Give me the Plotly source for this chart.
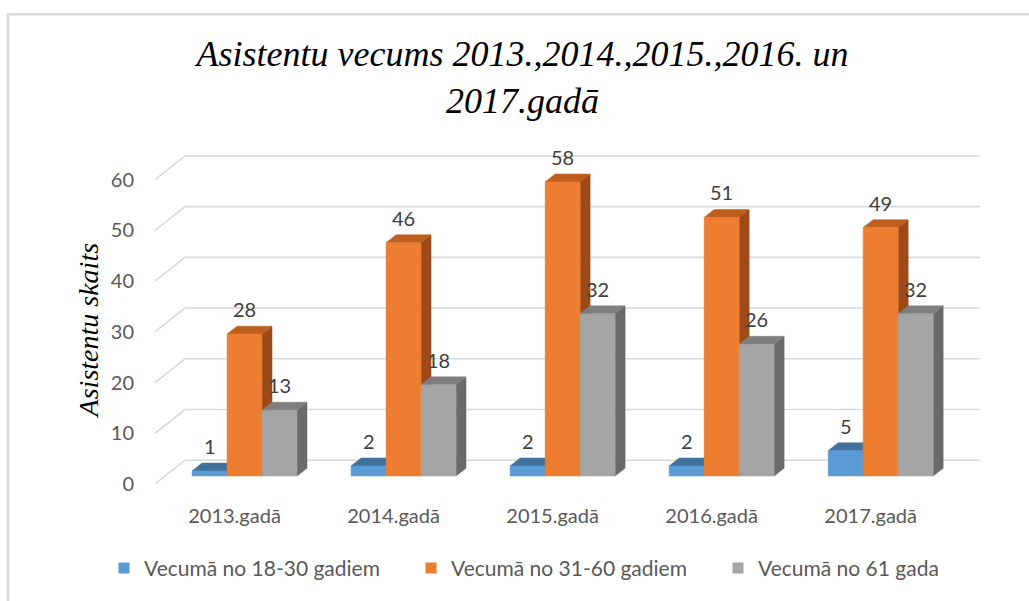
import plotly.graph_objects as go

# ---- data -------------------------------------------------------------
categories = ["2013.gadā", "2014.gadā", "2015.gadā", "2016.gadā", "2017.gadā"]
series_names = ["Vecumā no 18-30 gadiem", "Vecumā no 31-60 gadiem", "Vecumā no 61 gada"]
age_18_30 = [1, 2, 2, 2, 5]
age_31_60 = [28, 46, 58, 51, 49]
age_61_plus = [13, 18, 32, 26, 32]
y_ticks = [0, 10, 20, 30, 40, 50, 60]

# ---- geometry of the pseudo-3D drawing ---------------------------------
W, H = 1029, 601
MARGIN = dict(l=155, r=47, t=150, b=114)
X_RANGE = [-0.5, 4.7]
Y_RANGE = [0, 65.86]
px_per_x = (W - MARGIN["l"] - MARGIN["r"]) / (X_RANGE[1] - X_RANGE[0])
px_per_y = (H - MARGIN["t"] - MARGIN["b"]) / (Y_RANGE[1] - Y_RANGE[0])
STEP_DX = 10 / px_per_x      # one depth step, horizontal part
STEP_DY = 8 / px_per_y       # one depth step, vertical part
BAR_W = 35 / px_per_x        # width of a single bar

FACES = [  # front, top, side
    ("#5B9BD5", "#41719C", "#3A6891"),
    ("#ED7D31", "#BE5E1D", "#9C4B18"),
    ("#A5A5A5", "#7E7E7E", "#6A6A6A"),
]
GRID = "#D9D9D9"
TXT = "#595959"
SANS = "Lato, Calibri, sans-serif"
SERIF = "Liberation Serif, Times New Roman, serif"

fig = go.Figure()

# back wall + left wall gridlines
gx, gy = [], []
for v in y_ticks:
    gx += [X_RANGE[0], X_RANGE[0] + 3 * STEP_DX, len(categories) - 0.5 + 3 * STEP_DX, None]
    gy += [v, v + 3 * STEP_DY, v + 3 * STEP_DY, None]
fig.add_trace(go.Scatter(x=gx, y=gy, mode="lines", line=dict(color=GRID, width=1.6),
                         hoverinfo="skip", showlegend=False))


def face(xs, ys, color):
    fig.add_trace(go.Scatter(x=xs + [xs[0]], y=ys + [ys[0]], mode="lines", fill="toself",
                             fillcolor=color, line=dict(color=color, width=0.5),
                             hoverinfo="skip", showlegend=False))


annotations = []
series = [age_18_30, age_31_60, age_61_plus]
for i, cat in enumerate(categories):
    center = i + STEP_DX
    for k, vals in enumerate(series):
        front, top, side = FACES[k]
        v = vals[i]
        x0 = center - 1.5 * BAR_W + k * BAR_W
        x1 = x0 + BAR_W
        yb = STEP_DY
        yt = yb + v
        dx, dy = STEP_DX, STEP_DY
        face([x1, x1 + dx, x1 + dx, x1], [yb, yb + dy, yt + dy, yt], side)
        face([x0, x1, x1 + dx, x0 + dx], [yt, yt, yt + dy, yt + dy], top)
        face([x0, x1, x1, x0], [yb, yb, yt, yt], front)
        annotations.append(dict(x=(x0 + x1) / 2, y=yt, yshift=25, text=str(v),
                                showarrow=False, xanchor="center", yanchor="middle",
                                font=dict(family=SANS, size=20, color="#404040")))

# legend entries
for name, (front, _, _) in zip(series_names, FACES):
    fig.add_trace(go.Scatter(x=[None], y=[None], mode="markers", name=name,
                             marker=dict(symbol="square", size=11, color=front)))

pw = W - MARGIN["l"] - MARGIN["r"]
ph = H - MARGIN["t"] - MARGIN["b"]

annotations.append(dict(text="Asistentu skaits", textangle=-90, showarrow=False,
                        xref="paper", yref="paper",
                        x=(88 - MARGIN["l"]) / pw,
                        y=(H - MARGIN["b"] - 332) / ph,
                        xanchor="center", yanchor="middle",
                        font=dict(family=SERIF, size=28, style="italic", color="black")))

fig.update_layout(
    width=W, height=H, margin=MARGIN,
    paper_bgcolor="white", plot_bgcolor="white",
    title=dict(text="Asistentu vecums 2013.,2014.,2015.,2016. un<br>2017.gadā",
               x=522.5 / W, xanchor="center", xref="container",
               y=1 - 66 / H, yanchor="top",
               font=dict(family=SERIF, size=36, style="italic", color="black")),
    xaxis=dict(range=X_RANGE, tickmode="array", tickvals=list(range(len(categories))),
               ticktext=categories, showgrid=False, zeroline=False, showline=False,
               ticks="", ticklabelstandoff=18,
               tickfont=dict(family=SANS, size=20, color=TXT), fixedrange=True),
    yaxis=dict(range=Y_RANGE, tickmode="array", tickvals=y_ticks,
               ticktext=[str(t) for t in y_ticks], showgrid=False, zeroline=False,
               showline=False, ticks="", ticklabelstandoff=20,
               tickfont=dict(family=SANS, size=20, color=TXT), fixedrange=True),
    legend=dict(orientation="h", x=(104 - MARGIN["l"]) / pw, xanchor="left",
                y=(H - MARGIN["b"] - 572) / ph, yanchor="middle",
                font=dict(family=SANS, size=21, color=TXT), itemwidth=30,
                entrywidth=262, entrywidthmode="pixels"),
    annotations=annotations,
    shapes=[dict(type="rect", xref="paper", yref="paper", layer="below",
                 x0=(8 - MARGIN["l"]) / pw, x1=(1100 - MARGIN["l"]) / pw,
                 y0=(H - MARGIN["b"] - 700) / ph, y1=(H - MARGIN["b"] - 13) / ph,
                 line=dict(color=GRID, width=2.5))],
)

fig.write_html("out.html")
